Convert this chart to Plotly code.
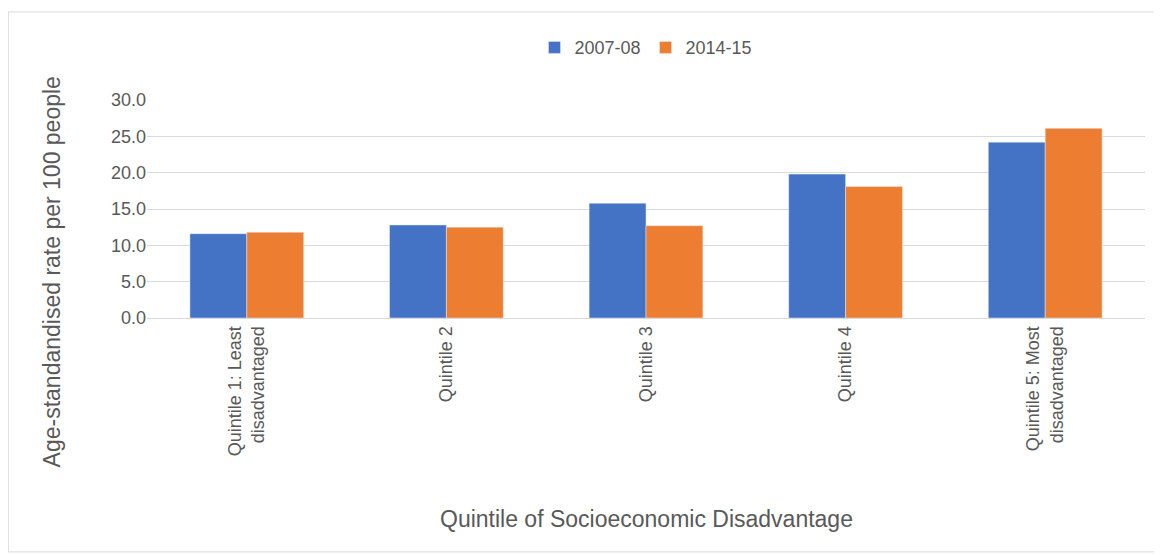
import plotly.graph_objects as go

categories = ["Quintile 1: Least<br>disadvantaged", "Quintile 2", "Quintile 3", "Quintile 4", "Quintile 5: Most<br>disadvantaged"]
v2007 = [11.6, 12.8, 15.8, 19.8, 24.2]
v2014 = [11.8, 12.5, 12.7, 18.1, 26.1]

fig = go.Figure()
fig.add_bar(name="2007-08", x=categories, y=v2007, marker_color="#4472C4")
fig.add_bar(name="2014-15", x=categories, y=v2014, marker_color="#ED7D31")
fig.update_layout(
    width=1162, height=555, barmode="group", bargap=0.43, bargroupgap=0,
    plot_bgcolor="white", paper_bgcolor="white",
    font=dict(family="Liberation Sans, Arial", size=18, color="#595959"),
    margin=dict(l=139, r=25, t=92, b=245, autoexpand=False),
    legend=dict(orientation="h", x=0.5, xanchor="center", y=1.24, yanchor="middle",
                font=dict(size=18), itemwidth=30),
    xaxis=dict(tickangle=-90, automargin=False,
               showline=True, linecolor="#D9D9D9", ticks=""),
    yaxis=dict(range=[0, 30], dtick=5, tickformat=".1f", gridcolor="#D9D9D9", automargin=False,
               zeroline=False),
    annotations=[
        dict(text="Quintile of Socioeconomic Disadvantage", xref="paper", yref="paper",
             x=0.5, y=-0.92, xanchor="center", yanchor="middle", showarrow=False, font=dict(size=23)),
        dict(text="Age-standandised rate per 100 people", xref="paper", yref="paper",
             x=-0.095, y=0.21, xanchor="center", yanchor="middle", textangle=-90,
             showarrow=False, font=dict(size=23)),
    ],
    shapes=[dict(type="rect", xref="paper", yref="paper", x0=-0.139, x1=1.015, y0=-1.073, y1=1.404,
                 line=dict(color="#D9D9D9", width=1))],
)
fig.write_html("out.html")
